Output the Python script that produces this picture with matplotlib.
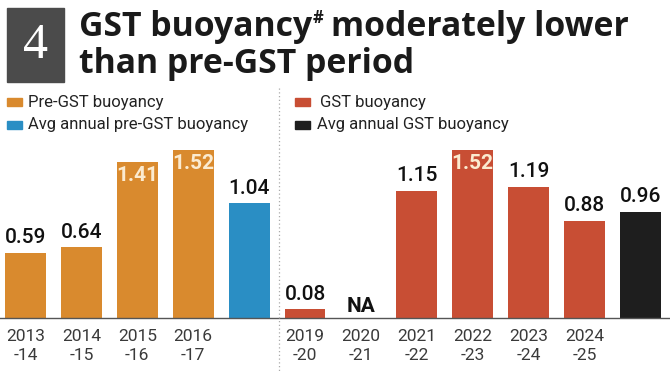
import matplotlib
matplotlib.use('Agg')
import matplotlib.pyplot as plt
from matplotlib.patches import Rectangle
from matplotlib.lines import Line2D

# data
years = ['2013\n-14', '2014\n-15', '2015\n-16', '2016\n-17', '',
         '2019\n-20', '2020\n-21', '2021\n-22', '2022\n-23', '2023\n-24', '2024\n-25', '']
values = [0.59, 0.64, 1.41, 1.52, 1.04, 0.08, None, 1.15, 1.52, 1.19, 0.88, 0.96]
kinds = ['pre', 'pre', 'pre', 'pre', 'pre_avg', 'gst', 'gst', 'gst', 'gst', 'gst', 'gst', 'gst_avg']
inside = [False, False, True, True, False, False, False, False, True, False, False, False]

colors = {'pre': '#D98A2E', 'pre_avg': '#2A8EC4', 'gst': '#C84E34', 'gst_avg': '#1E1E1E'}
legend_labels = {'pre': 'Pre-GST buoyancy', 'pre_avg': 'Avg annual pre-GST buoyancy',
                 'gst': 'GST buoyancy', 'gst_avg': 'Avg annual GST buoyancy'}

W, H = 670, 371
narrow = ['Roboto', 'DejaVu Sans']


def fx(px):
    return px / W


def fy(py):
    return 1 - py / H


fig = plt.figure(figsize=(6.7, 3.71), dpi=100)
fig.patch.set_facecolor('white')

ax = fig.add_axes([0, fy(318), 1, (318 - 140) / H])
pos = list(range(len(values)))
for i, v in enumerate(values):
    if v is None:
        ax.text(i, 0.02, 'NA', ha='center', va='bottom', fontsize=15,
                family=narrow, weight='bold', color='#111111')
        continue
    ax.bar(i, v, width=0.73, color=colors[kinds[i]])
    if inside[i]:
        ax.annotate(f'{v:.2f}', (i, v), xytext=(0, -3), textcoords='offset points',
                    ha='center', va='top', fontsize=15, family=narrow,
                    weight='bold', color='#FBEBD0')
    else:
        ax.annotate(f'{v:.2f}', (i, v), xytext=(0, 4), textcoords='offset points',
                    ha='center', va='bottom', fontsize=15, family=narrow,
                    weight='medium', color='#111111')

ax.set_xlim(-25.5 / 55.9, (W - 25.5) / 55.9)
ax.set_ylim(0, 178 / 110.5)
ax.set_yticks([])
ax.set_xticks(pos)
ax.set_xticklabels(years, fontsize=12.5, family=narrow,
                   color='#3A3A3A', linespacing=1.3)
ax.tick_params(axis='x', length=0, pad=8)
for s in ['top', 'left', 'right']:
    ax.spines[s].set_visible(False)
ax.spines['bottom'].set_color('#555555')
ax.spines['bottom'].set_linewidth(1)
ax.patch.set_alpha(0)

# dotted divider
fig.add_artist(Line2D([fx(279), fx(279)], [fy(88), 0], color='#AAAAAA',
                      lw=0.9, ls=(0, (1, 2))))

# number box
fig.add_artist(Rectangle((fx(7), fy(82)), fx(57), (82 - 8) / H, color='#4B4B4B'))
fig.text(fx(35.5), fy(46), '4', ha='center', va='center', fontsize=36,
         family='Liberation Serif', color='white')

# title
tsize = 24.3
t1 = fig.text(fx(79), fy(36), 'GST buoyancy', fontsize=tsize, weight='bold',
              family='Open Sans', color='#1A1A1A', va='baseline')
t2 = ax.annotate('#', xy=(1, 0), xycoords=t1, xytext=(0.5, 12), textcoords='offset points',
                 fontsize=12, weight='bold', family='Open Sans', color='#1A1A1A',
                 va='bottom', annotation_clip=False)
ax.annotate('moderately lower', xy=(1, 0), xycoords=(t2, t1), xytext=(5, 0),
            textcoords='offset points', fontsize=tsize, weight='bold', family='Open Sans',
            color='#1A1A1A', va='bottom', annotation_clip=False)
fig.text(fx(79), fy(73), 'than pre-GST period', fontsize=tsize, weight='bold',
         family='Open Sans', color='#1A1A1A', va='baseline')

# legend
leg = [('pre', 7, 28, 102), ('pre_avg', 7, 28, 125), ('gst', 295, 320, 102), ('gst_avg', 295, 317, 125)]
for k, sx, tx, cy in leg:
    fig.add_artist(Rectangle((fx(sx), fy(cy + 4)), fx(15), 8 / H, color=colors[k]))
    fig.text(fx(tx), fy(cy), legend_labels[k], fontsize=12, family=narrow,
             color='#222222', va='center')

fig.savefig('out.png', dpi=100)
